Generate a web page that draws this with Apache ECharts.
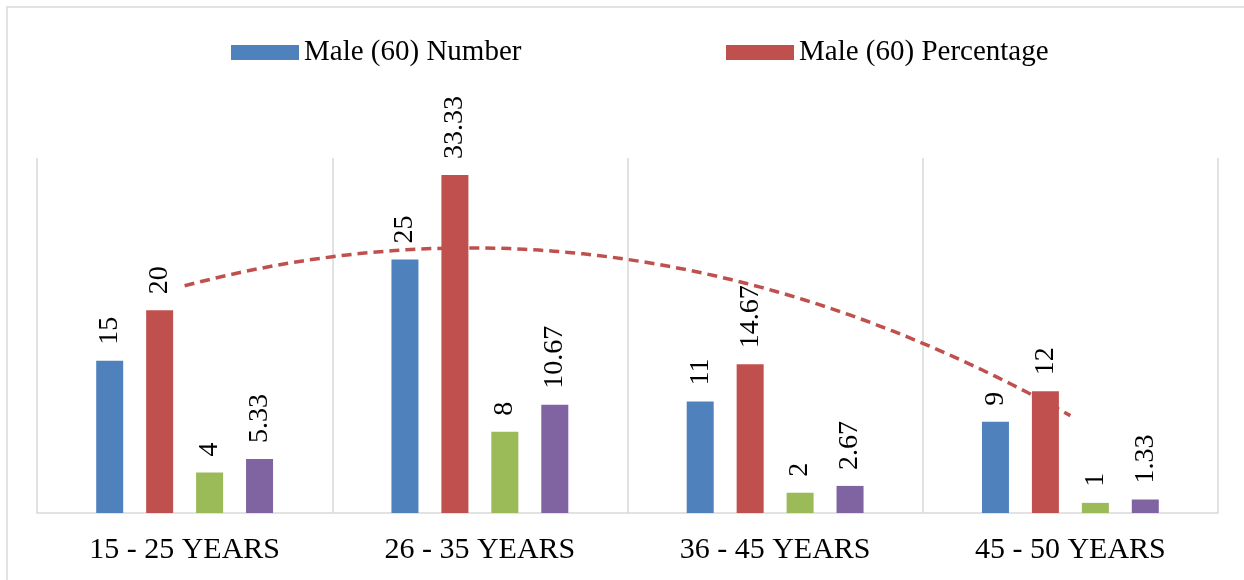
<!DOCTYPE html>
<html>
<head>
<meta charset="utf-8">
<script src="https://cdn.jsdelivr.net/npm/echarts@6/dist/echarts.min.js"></script>
<style>
html,body{margin:0;padding:0;background:#fff;}
#chart{width:1244px;height:580px;}
</style>
</head>
<body>
<div id="chart"></div>
<script>
const categories = ['15 - 25 YEARS', '26 - 35 YEARS', '36 - 45 YEARS', '45 - 50 YEARS'];
const maleNumber = [15, 25, 11, 9];
const malePercentage = [20, 33.33, 14.67, 12];
const femaleNumber = [4, 8, 2, 1];
const femalePercentage = [5.33, 10.67, 2.67, 1.33];

// Polynomial (order 2) least-squares trendline of the percentage series, as in the original
function quadFit(ys) {
  const n = ys.length;
  let sx = 0, sx2 = 0, sx3 = 0, sx4 = 0, sy = 0, sxy = 0, sx2y = 0;
  for (let i = 0; i < n; i++) {
    const x = i + 1, y = ys[i];
    sx += x; sx2 += x * x; sx3 += x * x * x; sx4 += x * x * x * x;
    sy += y; sxy += x * y; sx2y += x * x * y;
  }
  const M = [[n, sx, sx2, sy], [sx, sx2, sx3, sxy], [sx2, sx3, sx4, sx2y]];
  for (let c = 0; c < 3; c++) {
    for (let r = c + 1; r < 3; r++) {
      const f = M[r][c] / M[c][c];
      for (let k = c; k < 4; k++) M[r][k] -= f * M[c][k];
    }
  }
  const coef = [0, 0, 0];
  for (let r = 2; r >= 0; r--) {
    let s = M[r][3];
    for (let k = r + 1; k < 3; k++) s -= M[r][k] * coef[k];
    coef[r] = s / M[r][r];
  }
  return coef;
}
const tc = quadFit(malePercentage);
const trendPoints = [];
for (let i = 0; i <= 60; i++) {
  const x = 1 + i * (malePercentage.length - 1) / 60;
  trendPoints.push([x, tc[0] + tc[1] * x + tc[2] * x * x]);
}

const serif = "'Liberation Serif', 'Times New Roman', serif";
const barLabel = {
  show: true,
  position: 'top',
  rotate: 90,
  align: 'left',
  verticalAlign: 'middle',
  distance: 16,
  color: '#000',
  fontFamily: serif,
  fontSize: 28
};

function barSeries(name, data, color) {
  return {
    name: name,
    type: 'bar',
    data: data,
    barWidth: 27,
    barGap: '85%',
    itemStyle: { color: color },
    label: barLabel,
    emphasis: { disabled: true }
  };
}

const chart = echarts.init(document.getElementById('chart'));
chart.setOption({
  animation: false,
  backgroundColor: '#fff',
  graphic: [{
    type: 'rect',
    shape: { x: 7, y: 7, width: 1400, height: 800 },
    style: { fill: 'none', stroke: '#d9d9d9', lineWidth: 1.5 },
    silent: true
  }],
  legend: [{
    data: ['Male (60) Number'],
    left: 226,
    top: 33,
    itemWidth: 68,
    itemHeight: 15,
    icon: 'rect',
    textStyle: { fontFamily: serif, fontSize: 29, color: '#000' }
  }, {
    data: ['Male (60) Percentage'],
    left: 721,
    top: 33,
    itemWidth: 68,
    itemHeight: 15,
    icon: 'rect',
    textStyle: { fontFamily: serif, fontSize: 29, color: '#000' }
  }],
  grid: { left: 37, right: 26, top: 158, bottom: 67, containLabel: false },
  xAxis: [{
    type: 'category',
    data: categories,
    axisLine: { show: true, lineStyle: { color: '#d9d9d9', width: 1.5 } },
    axisTick: { show: false },
    splitLine: { show: true, lineStyle: { color: '#d9d9d9', width: 1.5 } },
    axisLabel: { fontFamily: serif, fontSize: 30, color: '#000', margin: 22 }
  }, {
    type: 'value',
    min: 0.5,
    max: 4.5,
    show: false
  }],
  yAxis: { type: 'value', min: 0, max: 35, show: false },
  series: [
    barSeries('Male (60) Number', maleNumber, '#4F81BD'),
    barSeries('Male (60) Percentage', malePercentage, '#C0504D'),
    barSeries('Female (15) Number', femaleNumber, '#9BBB59'),
    barSeries('Female (15) Percentage', femalePercentage, '#8064A2'),
    {
      name: 'Trendline',
      type: 'line',
      xAxisIndex: 1,
      data: trendPoints,
      showSymbol: false,
      symbol: 'none',
      z: 5,
      lineStyle: { color: '#C0504D', width: 3.5, type: [10, 6] },
      emphasis: { disabled: true },
      silent: true
    }
  ]
});
</script>
</body>
</html>
